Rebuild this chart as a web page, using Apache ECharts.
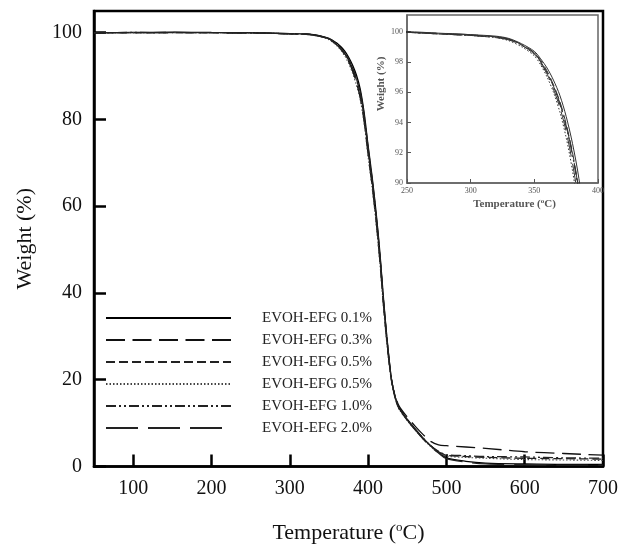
<!DOCTYPE html>
<html>
<head>
<meta charset="utf-8">
<script src="https://cdn.jsdelivr.net/npm/echarts@6/dist/echarts.min.js"></script>
<style>
html,body{margin:0;padding:0;background:#fff;}
#chart{width:621px;height:549px;}
</style>
</head>
<body>
<div id="chart"></div>
<script>
// ---- data ----
const seriesLabels = ['EVOH-EFG 0.1%', 'EVOH-EFG 0.3%', 'EVOH-EFG 0.5%', 'EVOH-EFG 0.5%', 'EVOH-EFG 1.0%', 'EVOH-EFG 2.0%'];
const temps = [50,100,150,200,250,275,300,320,330,340,350,355,360,365,370,375,380,385,390,395,400,405,410,415,420,425,430,435,440,450,460,470,480,490,500,525,550,600,650,700];
const w01 = [100.0,100.05,100.1,100.05,100.0,99.9,99.8,99.7,99.55,99.2,98.7,98.2,97.6,96.8,95.8,94.4,92.6,90.3,87.0,81.5,74.0,67.0,59.0,49.5,38.0,28.0,20.0,15.8,13.4,10.9,8.7,6.6,4.8,3.3,2.0,1.2,0.8,0.6,0.5,0.5];
const w03 = [100.0,100.0,100.05,100.0,99.95,99.85,99.75,99.6,99.45,99.1,98.5,97.9,97.2,96.2,95.0,93.4,91.3,88.6,85.0,79.5,72.0,65.0,57.0,47.5,36.5,27.0,19.8,16.0,13.8,11.4,9.3,7.4,5.8,5.0,4.8,4.5,4.2,3.4,3.0,2.6];
const w05a = [100.0,100.0,100.0,100.0,99.95,99.85,99.75,99.65,99.5,99.15,98.6,98.1,97.4,96.5,95.4,93.9,92.0,89.5,86.0,80.5,73.0,66.0,58.0,48.5,37.0,27.5,19.8,15.6,13.2,10.7,8.5,6.5,4.7,3.4,2.6,2.3,2.1,1.9,1.8,1.7];
const w05b = [100.0,100.0,100.05,100.0,99.95,99.85,99.75,99.6,99.4,99.0,98.4,97.8,97.0,96.0,94.7,93.0,90.8,88.0,84.5,79.0,71.5,64.5,56.5,47.0,36.0,26.5,19.5,15.4,13.1,10.6,8.4,6.4,4.6,3.2,2.4,2.1,1.9,1.6,1.5,1.4];
const w10 = [100.0,100.05,100.0,100.0,99.95,99.85,99.75,99.65,99.5,99.1,98.6,98.0,97.3,96.4,95.2,93.7,91.8,89.3,86.0,80.5,73.0,66.0,58.0,48.5,37.5,27.5,19.8,15.7,13.3,10.8,8.6,6.6,4.8,3.5,2.7,2.5,2.3,2.2,2.0,1.9];
const w20 = [100.0,100.0,100.0,100.0,99.95,99.9,99.8,99.65,99.5,99.15,98.6,98.0,97.3,96.4,95.3,93.8,91.9,89.5,86.3,81.0,73.5,66.5,58.5,49.0,37.5,27.8,20.0,15.7,13.2,10.7,8.5,6.4,4.6,3.1,1.8,1.0,0.6,0.4,0.3,0.3];
const mainXTicks = [100,200,300,400,500,600,700];
const mainYTicks = [0,20,40,60,80,100];
const insetXTicks = [250,300,350,400];
const insetYTicks = [90,92,94,96,98,100];

// ---- styles ----
const allW = [w01, w03, w05a, w05b, w10, w20];
const dashes = ['solid', [19,7.5], [9,4], [1.5,2], [10,3,2,3,2,3], [32,10]];
const colors = ['#000','#111','#222','#444','#222','#222'];
const font = 'Liberation Serif, Times New Roman, serif';

function pairs(w){ return temps.map((t,i)=>[t,w[i]]); }

const series = [];
allW.forEach((w,i)=>{
  series.push({
    name:'m'+i, type:'line', xAxisIndex:0, yAxisIndex:0, data:pairs(w),
    symbol:'none', smooth:0.3, animation:false,
    itemStyle:{color:colors[i]},
    lineStyle:{color:colors[i], width: i===3?1.1:1.3, type:dashes[i]}
  });
});
allW.forEach((w,i)=>{
  series.push({
    name:'i'+i, type:'line', xAxisIndex:1, yAxisIndex:1, data:pairs(w),
    symbol:'none', smooth:0.3, clip:true, animation:false,
    itemStyle:{color:'#333'},
    lineStyle:{color:'#333', width:1, type:dashes[i]}
  });
});

const chart = echarts.init(document.getElementById('chart'), null, {renderer:'canvas'});
chart.setOption({
  backgroundColor:'#fff',
  animation:false,
  textStyle:{fontFamily:font},
  legend:{
    data: seriesLabels.map((_,i)=>'m'+i),
    orient:'vertical', left:105, top:310, padding:0,
    itemWidth:125, itemHeight:16, itemGap:6,
    formatter: n => seriesLabels[+n.slice(1)],
    selectedMode:false,
    itemStyle:{color:'rgba(0,0,0,0)', borderWidth:0, opacity:0},
    textStyle:{fontFamily:font, fontSize:15, color:'#222', lineHeight:16, padding:[0,0,0,26]}
  },
  grid:[
    {left:94, right:18, top:11, bottom:78, show:true, borderColor:'#000', borderWidth:2.5, backgroundColor:'#fff', containLabel:false},
    {left:407, right:23, top:15, bottom:366, show:true, borderColor:'#666', borderWidth:1.5, backgroundColor:'#fff', containLabel:false}
  ],
  xAxis:[
    {gridIndex:0, type:'value', min:50, max:700,
     name:'Temperature ({sup|o}C)', nameLocation:'middle', nameGap:55,
     nameTextStyle:{fontFamily:font, fontSize:22, color:'#111', rich:{sup:{fontFamily:font, fontSize:13, verticalAlign:'top', padding:[0,0,10,0], color:'#111'}}},
     axisLine:{lineStyle:{color:'#000', width:2.5}},
     axisTick:{inside:true, length:12, lineStyle:{color:'#000', width:2.5}, customValues:mainXTicks},
     axisLabel:{fontFamily:font, fontSize:20, color:'#111', margin:12, customValues:mainXTicks},
     splitLine:{show:false}},
    {gridIndex:1, type:'value', min:250, max:400,
     name:'Temperature ({sup|o}C)', nameLocation:'middle', nameGap:15,
     nameTextStyle:{fontFamily:font, fontSize:11, fontWeight:'bold', color:'#555', padding:[0,0,0,24], rich:{sup:{fontFamily:font, fontSize:7, fontWeight:'bold', color:'#555', padding:[0,0,5,0]}}},
     axisLine:{lineStyle:{color:'#666', width:1.5}},
     axisTick:{inside:true, length:4, lineStyle:{color:'#555', width:1}, customValues:insetXTicks},
     axisLabel:{fontFamily:font, fontSize:8, color:'#555', margin:4, customValues:insetXTicks},
     splitLine:{show:false}}
  ],
  yAxis:[
    {gridIndex:0, type:'value', min:0, max:105,
     name:'Weight (%)', nameLocation:'middle', nameGap:58,
     nameTextStyle:{fontFamily:font, fontSize:22, color:'#111'},
     axisLine:{lineStyle:{color:'#000', width:2.5}},
     axisTick:{inside:true, length:12, lineStyle:{color:'#000', width:2.5}, customValues:mainYTicks},
     axisLabel:{fontFamily:font, fontSize:20, color:'#111', margin:12, customValues:mainYTicks},
     splitLine:{show:false}},
    {gridIndex:1, type:'value', min:90, max:101.1,
     name:'Weight (%)', nameLocation:'middle', nameGap:18,
     nameTextStyle:{fontFamily:font, fontSize:11, fontWeight:'bold', color:'#555', padding:[0,0,0,30]},
     axisLine:{lineStyle:{color:'#666', width:1.5}},
     axisTick:{inside:true, length:4, lineStyle:{color:'#555', width:1}, customValues:insetYTicks},
     axisLabel:{fontFamily:font, fontSize:8, color:'#555', margin:4, customValues:insetYTicks},
     splitLine:{show:false}}
  ],
  series: series
});
</script>
</body>
</html>
